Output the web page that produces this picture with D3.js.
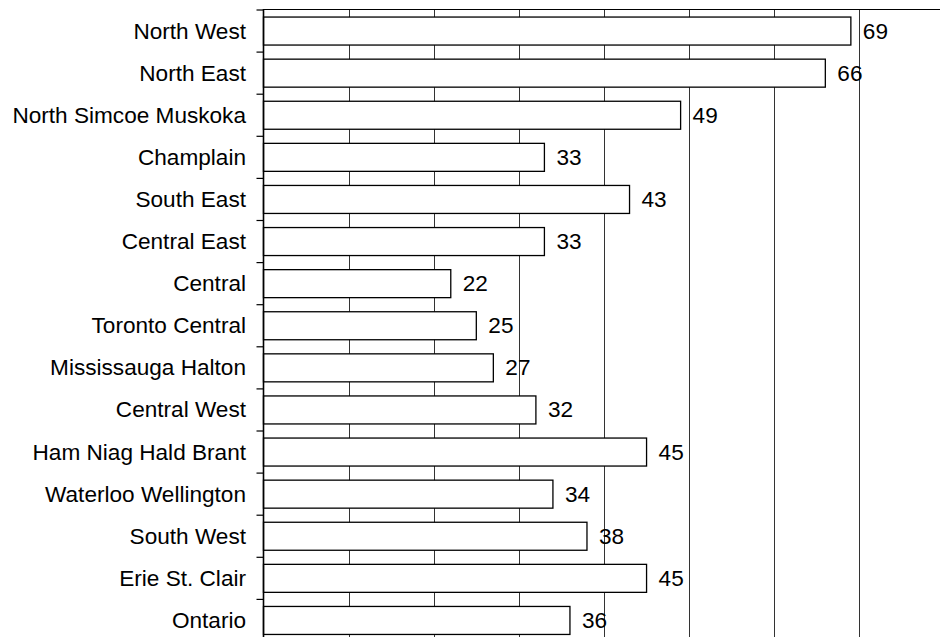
<!DOCTYPE html>
<html>
<head>
<meta charset="utf-8">
<script src="https://cdn.jsdelivr.net/npm/d3@7"></script>
<style>
  html, body { margin: 0; padding: 0; background: #fff; }
  svg { display: block; }
  text { font-family: "Liberation Sans", Arial, sans-serif; fill: #000; }
</style>
</head>
<body>
<svg id="chart" width="940" height="637"></svg>
<script>
// Health regions and their values
const regions = [
  "North West", "North East", "North Simcoe Muskoka", "Champlain", "South East",
  "Central East", "Central", "Toronto Central", "Mississauga Halton", "Central West",
  "Ham Niag Hald Brant", "Waterloo Wellington", "South West", "Erie St. Clair", "Ontario"
];
const values = [69, 66, 49, 33, 43, 33, 22, 25, 27, 32, 45, 34, 38, 45, 36];
const gridTicks = [10, 20, 30, 40, 50, 60, 70, 80];

const svg = d3.select("#chart");
const W = 940;
const plotLeft = 263.5, plotTop = 10;
const fontSize = "22.6px";

const x = d3.scaleLinear().domain([0, 80]).range([plotLeft, plotLeft + 681]);
const y = d3.scaleBand().domain(regions).range([plotTop, plotTop + 631.5])
  .paddingInner(0.335).paddingOuter(0.1675);

// vertical gridlines
svg.append("g").selectAll("line").data(gridTicks).join("line")
  .attr("x1", d => Math.round(x(d)) + 0.5).attr("x2", d => Math.round(x(d)) + 0.5)
  .attr("y1", plotTop).attr("y2", 637)
  .attr("stroke", "#333").attr("stroke-width", 1);

// top axis line
svg.append("line")
  .attr("x1", plotLeft).attr("x2", W).attr("y1", plotTop - 0.5).attr("y2", plotTop - 0.5)
  .attr("stroke", "#000").attr("stroke-width", 1.2);

// bars
svg.append("g").selectAll("rect").data(values).join("rect")
  .attr("x", x(0))
  .attr("y", (d, i) => y(regions[i]))
  .attr("width", d => x(d) - x(0))
  .attr("height", y.bandwidth())
  .attr("fill", "#fff")
  .attr("stroke", "#000")
  .attr("stroke-width", 1.3);

// left axis with ticks at band boundaries
const boundaries = d3.range(regions.length + 1).map(i => plotTop + i * y.step());
svg.append("line")
  .attr("x1", plotLeft).attr("x2", plotLeft).attr("y1", plotTop - 1).attr("y2", 637)
  .attr("stroke", "#000").attr("stroke-width", 1.6);
svg.append("g").selectAll("line").data(boundaries).join("line")
  .attr("x1", plotLeft - 7).attr("x2", plotLeft)
  .attr("y1", d => d).attr("y2", d => d)
  .attr("stroke", "#000").attr("stroke-width", 1.2);

// category labels
svg.append("g").selectAll("text").data(regions).join("text")
  .attr("x", 246)
  .attr("y", d => y(d) + y.bandwidth() / 2)
  .attr("text-anchor", "end")
  .attr("dominant-baseline", "central")
  .style("font-size", fontSize)
  .text(d => d);

// value labels
svg.append("g").selectAll("text").data(values).join("text")
  .attr("x", d => x(d) + 12)
  .attr("y", (d, i) => y(regions[i]) + y.bandwidth() / 2)
  .attr("dominant-baseline", "central")
  .style("font-size", fontSize)
  .text(d => d);
</script>
</body>
</html>
